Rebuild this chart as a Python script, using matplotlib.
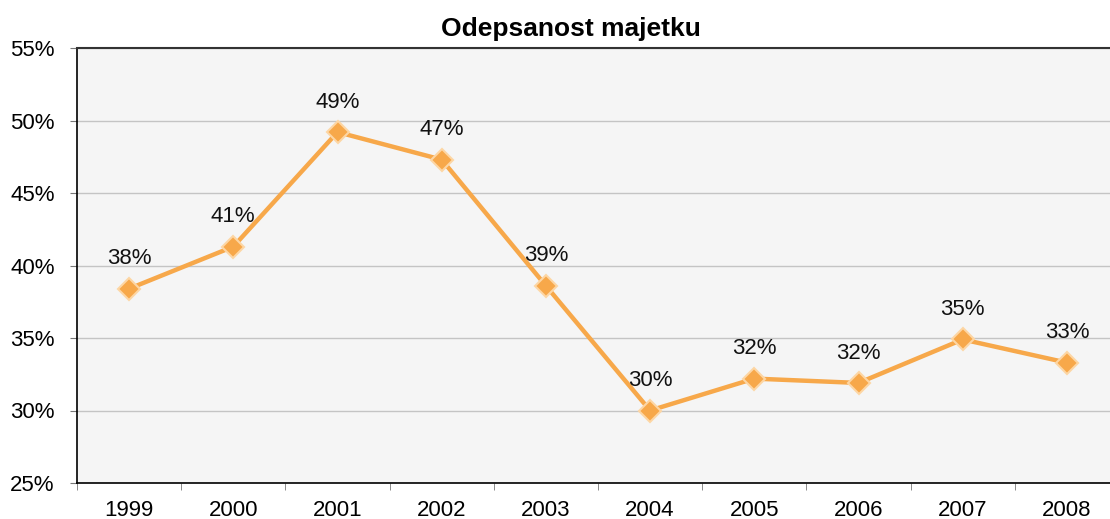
import matplotlib.pyplot as plt
import numpy as np

years = ["1999", "2000", "2001", "2002", "2003", "2004", "2005", "2006", "2007", "2008"]
values = [38.4, 41.3, 49.2, 47.3, 38.6, 30.0, 32.2, 31.9, 34.9, 33.3]
labels = ["38%", "41%", "49%", "47%", "39%", "30%", "32%", "32%", "35%", "33%"]
yticks = [25, 30, 35, 40, 45, 50, 55]

plt.rcParams["font.family"] = ["Liberation Sans", "DejaVu Sans"]

W, H = 1110, 519
fig = plt.figure(figsize=(W / 100, H / 100), dpi=100)

# axes extends past the right edge of the picture, as in the reference
left, right, top, bottom = 77, 1119, 48, 483
ax = fig.add_axes([left / W, 1 - bottom / H, (right - left) / W, (bottom - top) / H])
ax.set_facecolor("#f5f5f5")

x = np.arange(len(years))
ax.plot(x, values, color="#f7a84a", lw=3.2, marker="D", ms=11,
        mfc="#f7a84a", mec="#fdd6a4", mew=1.5, zorder=3)

for xi, v, lab in zip(x, values, labels):
    ax.annotate(lab, (xi, v), xytext=(0, 14), textcoords="offset points",
                ha="center", va="bottom", fontsize=16, color="#111111")

ax.set_xlim(-0.5, len(years) - 0.5)
ax.set_ylim(25, 55)
ax.set_yticks(yticks)
ax.set_yticklabels([f"{t}%" for t in yticks], fontsize=16)
ax.yaxis.grid(True, color="#c4c4c4", lw=1)
ax.set_axisbelow(True)

ax.set_xticks(x)
ax.set_xticklabels(years, fontsize=16)
ax.set_xticks(np.arange(len(years) + 1) - 0.5, minor=True)
ax.tick_params(axis="x", which="major", length=0, pad=12)
ax.tick_params(axis="x", which="minor", length=5, color="#777777", direction="out")
ax.tick_params(axis="y", length=5, color="#777777", direction="out", pad=11)

for s in ["left", "bottom"]:
    ax.spines[s].set_color("black")
    ax.spines[s].set_linewidth(1.2)
ax.spines["top"].set_color("#333333")
ax.spines["top"].set_linewidth(1.5)
ax.spines["right"].set_visible(False)

fig.text(571 / W, 1 - 29 / H, "Odepsanost majetku", ha="center", va="center",
         fontsize=19, fontweight="bold")

fig.savefig("out.png", dpi=100)
